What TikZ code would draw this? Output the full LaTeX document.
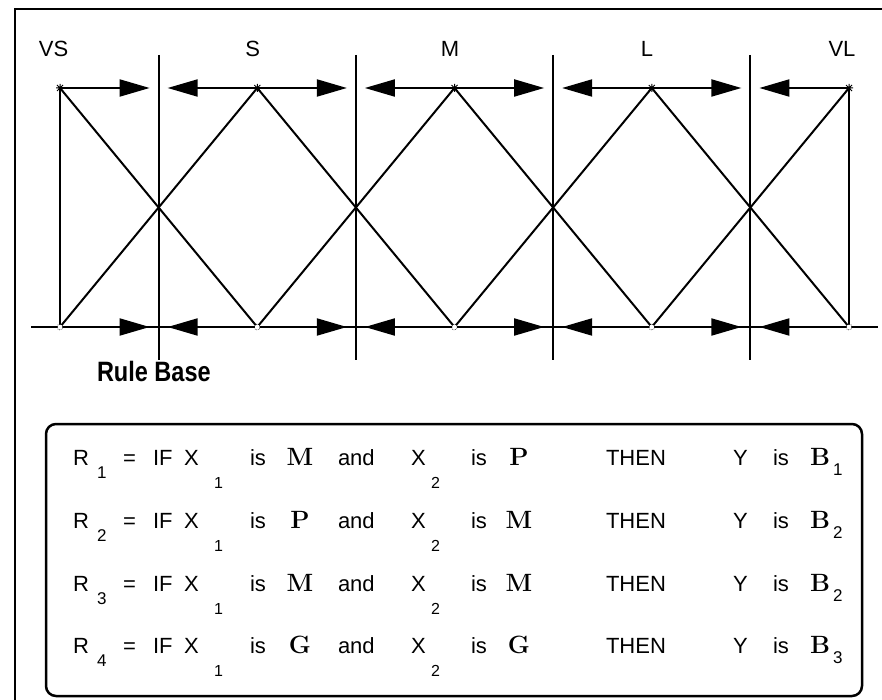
\documentclass[tikz,border=0pt]{standalone}
\usepackage{fontspec}
\usepackage{graphicx}
\newfontfamily\arial{Liberation Sans}
\usetikzlibrary{arrows.meta,calc}
\begin{document}
\begin{tikzpicture}[x=1pt,y=-1pt,line width=2pt,
  bigarrow/.style={-{Triangle[length=30pt,width=17pt]}},
  lbl/.style={font=\arial\fontsize{22}{22}\selectfont,inner sep=0pt,anchor=base},
  txt/.style={font=\arial\fontsize{22}{22}\selectfont,inner sep=0pt,anchor=base west},
  sub/.style={font=\arial\fontsize{17}{17}\selectfont,inner sep=0pt,anchor=base west},
  xsub/.style={font=\arial\fontsize{16}{16}\selectfont,inner sep=0pt,anchor=base west},
  bsym/.style={font=\fontsize{25}{25}\selectfont\bfseries,inner sep=0pt,anchor=base},
  bsymw/.style={font=\fontsize{25}{25}\selectfont\bfseries,inner sep=0pt,anchor=base west}]
\useasboundingbox (0,0) rectangle (882,700);
% frame
\coordinate (fl) at (15,702);
\coordinate (fc) at (15,9);
\coordinate (fr) at (884,9);
\draw (fl) -- (fc) -- (fr);
% coordinates
\foreach \i in {0,...,4}{
  \coordinate (t\i) at ({60+197.25*\i},88);
  \coordinate (b\i) at ({60+197.25*\i},327);
}
\foreach \i in {1,...,4}{
  \coordinate (vt\i) at ({60+197.25*(\i-0.5)},55);
  \coordinate (vb\i) at ({60+197.25*(\i-0.5)},360);
  \coordinate (tar\i) at ({60+197.25*(\i-0.5)-9},88);
  \coordinate (tal\i) at ({60+197.25*(\i-0.5)+9},88);
  \coordinate (bar\i) at ({60+197.25*(\i-0.5)-9},327);
  \coordinate (bal\i) at ({60+197.25*(\i-0.5)+9},327);
}
\coordinate (base l) at (31,327);
\coordinate (base r) at (878,327);
% base line
\draw (base l) -- (base r);
% vertical lines
\foreach \i in {1,...,4}{ \draw (vt\i) -- (vb\i); }
% triangles
\draw (t0) -- (b0);
\draw (t4) -- (b4);
\draw (t0) -- (b1);
\draw (b0) -- (t1) -- (b2);
\draw (b1) -- (t2) -- (b3);
\draw (b2) -- (t3) -- (b4);
\draw (b3) -- (t4);
% arrows
\foreach \i/\j in {0/1,1/2,2/3,3/4}{
  \draw[bigarrow] (t\i) -- (tar\j);
  \draw[bigarrow] (b\i) -- (bar\j);
}
\foreach \i/\j in {1/1,2/2,3/3,4/4}{
  \draw[bigarrow] (t\i) -- (tal\j);
  \draw[bigarrow] (b\i) -- (bal\j);
}
% markers
\foreach \i in {0,...,4}{
  \draw[line width=1pt] (t\i) +(-4,0) -- +(4,0) +(0,-4) -- +(0,4) +(-3,-3) -- +(3,3) +(-3,3) -- +(3,-3);
  \fill[white] (b\i) circle (2.5);
  \draw[line width=0.6pt,densely dotted] (b\i) circle (3);
}
% labels
\node[lbl] (lvs) at (53.5,57) {VS};
\node[lbl] (ls) at (252.7,57) {S};
\node[lbl] (lm) at (450,57) {M};
\node[lbl] (ll) at (647,57) {L};
\node[lbl] (lvl) at (842,57) {VL};
\node[inner sep=0pt,anchor=base west] (rb) at (96,381)
  {\scalebox{0.84}[1]{\arial\bfseries\fontsize{28}{28}\selectfont Rule Base}};
% rule box
\draw[line width=2.5pt,rounded corners=10pt] (46,424) rectangle (862,696);
\foreach \r/\y/\a/\b/\c in {1/465/M/P/1,2/528/P/M/2,3/591/M/M/2,4/653/G/G/3}{
  \node[txt] (R\r) at (72,\y) {R};
  \node[sub] (Rs\r) at (96,\y+13) {\r};
  \node[txt] (eq\r) at (122,\y) {=};
  \node[txt] (if\r) at (152,\y) {IF};
  \node[txt] (xa\r) at (183,\y) {X};
  \node[xsub] (xas\r) at (213,\y+23) {1};
  \node[txt] (isa\r) at (249,\y) {is};
  \node[bsym] (ba\r) at (300,\y) {\a};
  \node[txt] (and\r) at (337,\y) {and};
  \node[txt] (xb\r) at (410,\y) {X};
  \node[xsub] (xbs\r) at (430,\y+23) {2};
  \node[txt] (isb\r) at (470,\y) {is};
  \node[bsym] (bb\r) at (519,\y) {\b};
  \node[txt] (then\r) at (605,\y) {THEN};
  \node[txt] (y\r) at (732,\y) {Y};
  \node[txt] (isc\r) at (772,\y) {is};
  \node[bsymw] (bc\r) at (809,\y) {B};
  \node[sub] (bcs\r) at (832,\y+10) {\c};
}
\end{tikzpicture}
\end{document}
